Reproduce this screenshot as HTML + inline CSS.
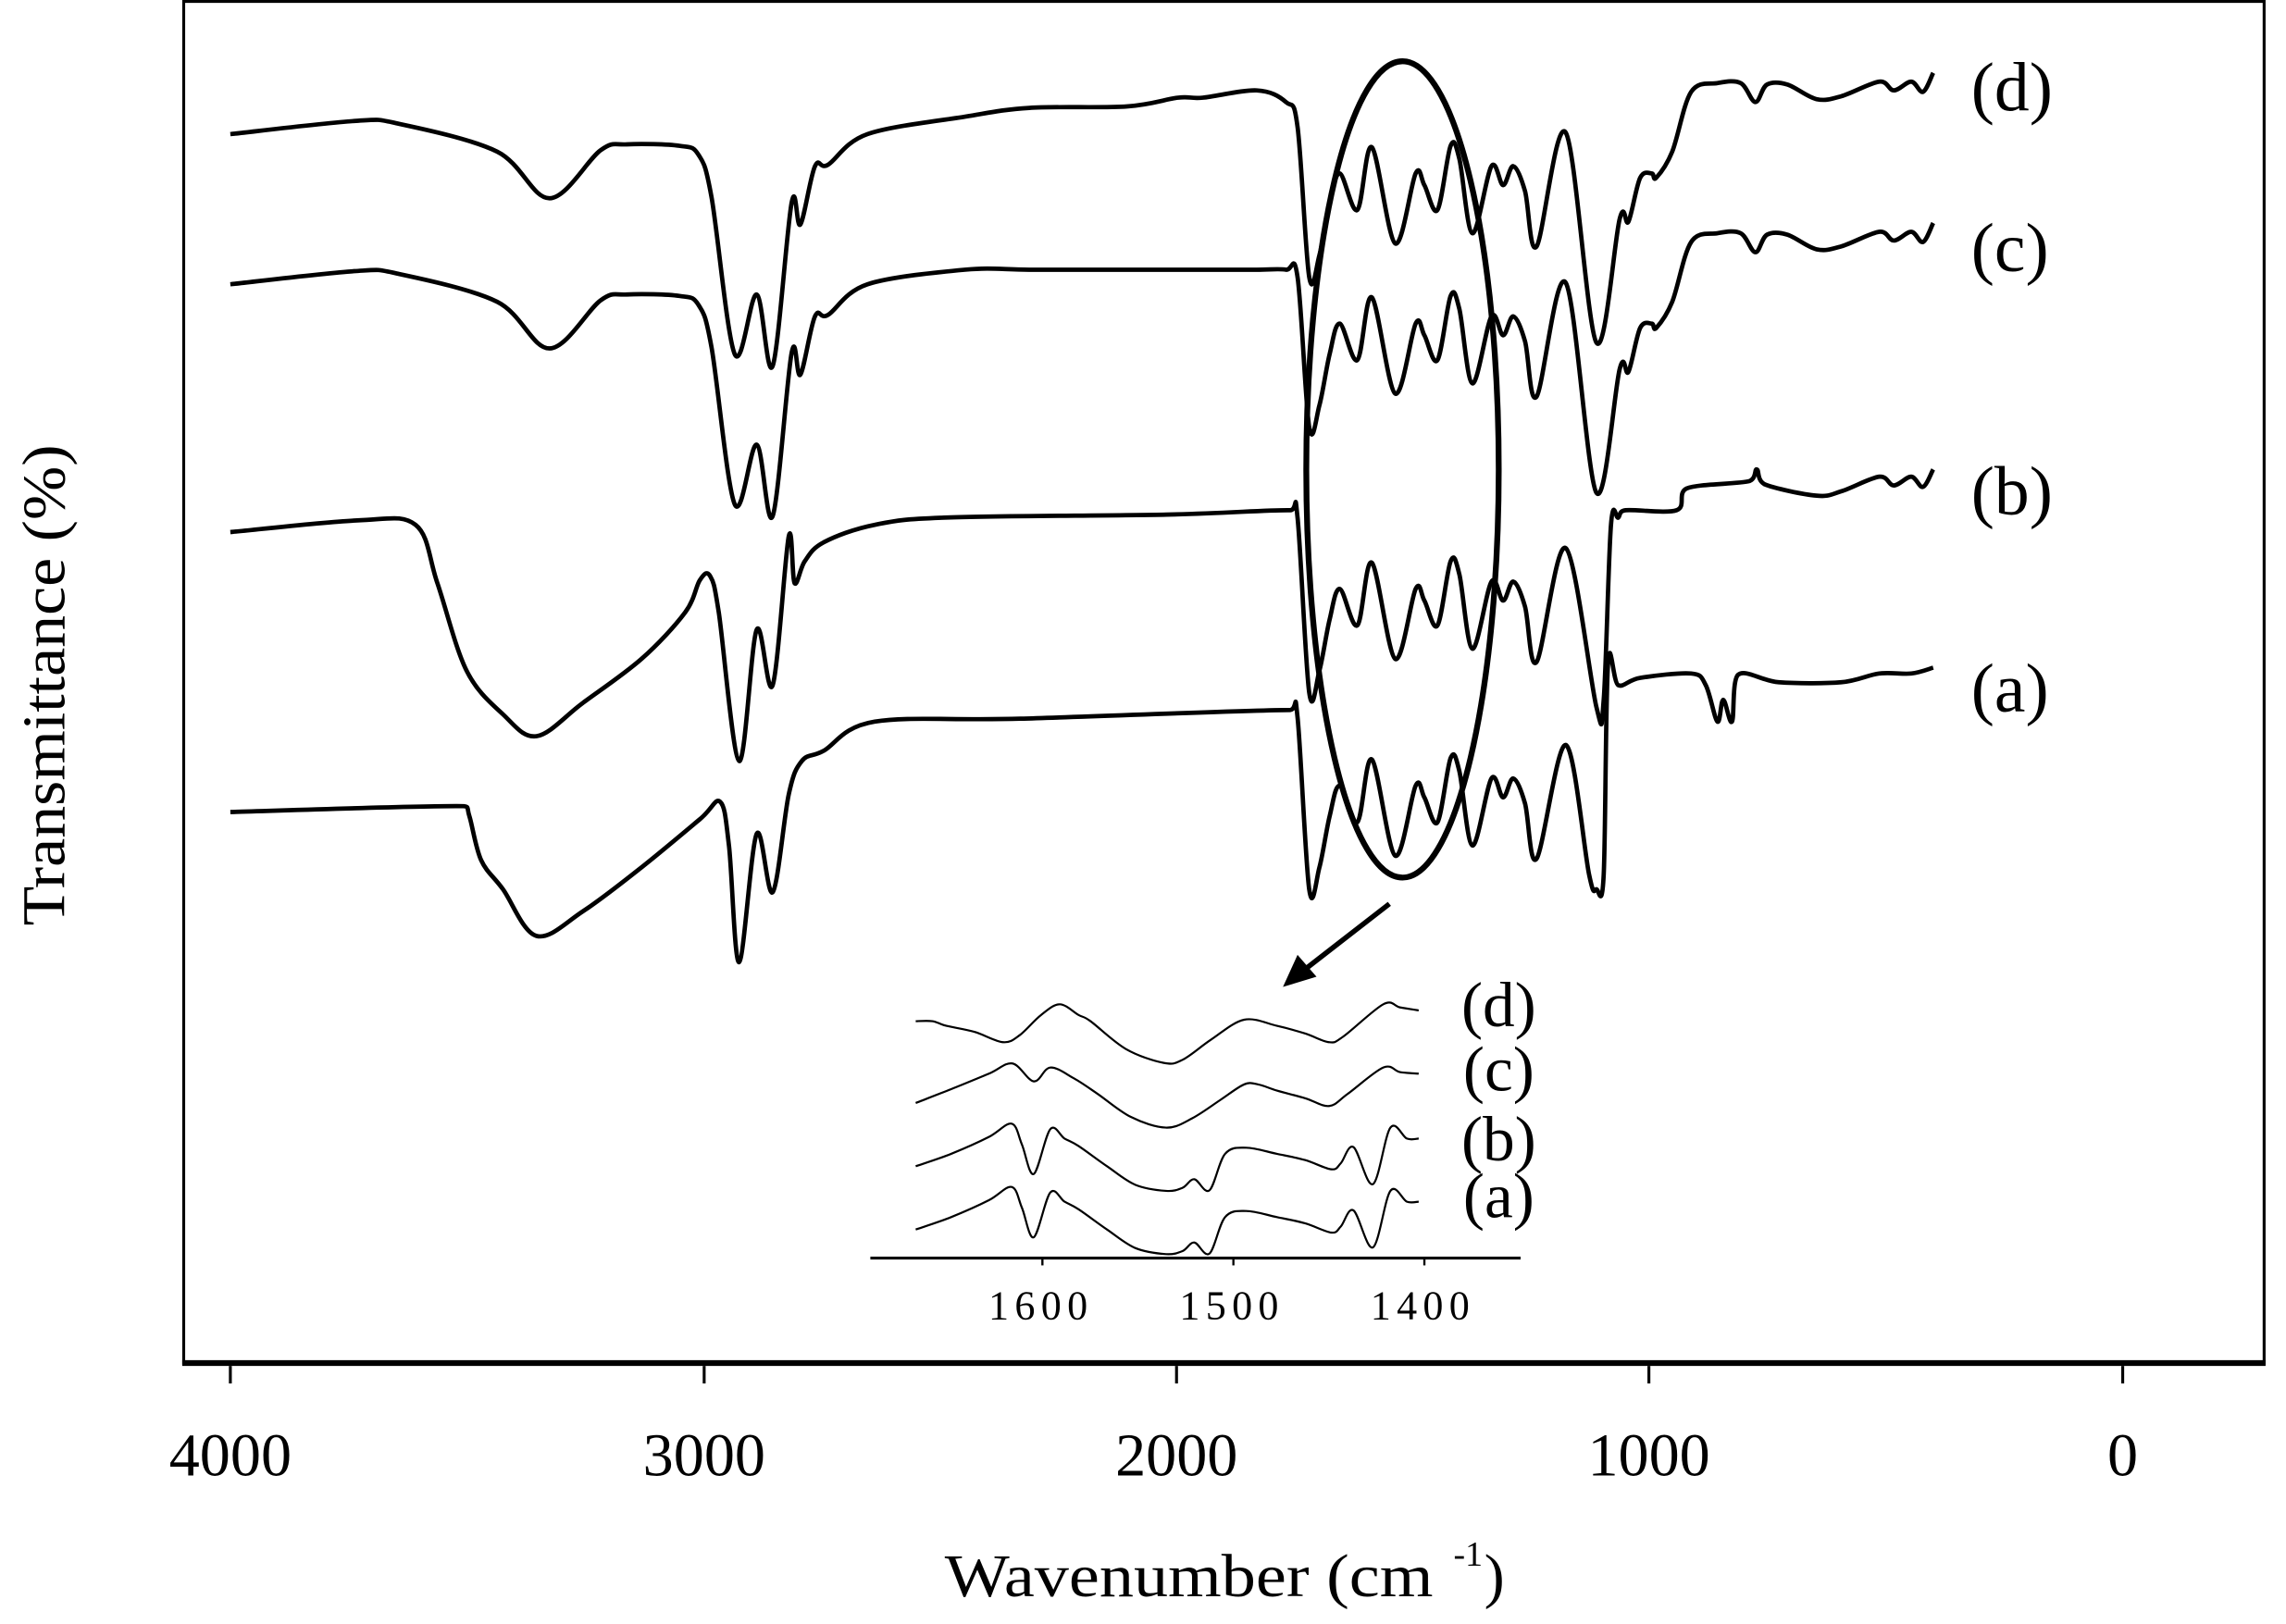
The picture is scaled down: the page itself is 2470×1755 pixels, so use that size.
<!DOCTYPE html>
<html><head><meta charset="utf-8"><style>
html,body{margin:0;padding:0;background:#fff;}
svg{display:block;}
text{font-family:"Liberation Serif",serif;fill:#000;}
</style></head><body>
<svg id="s" width="2470" height="1755" viewBox="0 0 1568 1114" preserveAspectRatio="none" xmlns="http://www.w3.org/2000/svg">
<rect x="0" y="0" width="1568" height="1114" fill="#fff"/>
<path d="M126,1 H1553 V935 H126 Z" fill="none" stroke="#000" stroke-width="2"/>
<line x1="125" y1="935" x2="1554" y2="935" stroke="#000" stroke-width="4"/>
<g stroke="#000" stroke-width="2">
<line x1="158" y1="937" x2="158" y2="949"/><line x1="483" y1="937" x2="483" y2="949"/>
<line x1="807" y1="937" x2="807" y2="949"/><line x1="1131" y1="937" x2="1131" y2="949"/>
<line x1="1456" y1="937" x2="1456" y2="949"/></g>
<g font-size="42" text-anchor="middle">
<text x="158" y="1012">4000</text><text x="483" y="1012">3000</text><text x="807" y="1012">2000</text>
<text x="1131" y="1012">1000</text><text x="1456" y="1012">0</text></g>
<text x="648" y="1095" font-size="42" textLength="335" lengthAdjust="spacingAndGlyphs">Wavenumber (cm</text>
<text x="997" y="1074" font-size="24">-1</text>
<text x="1018" y="1095" font-size="42">)</text>
<text transform="translate(44,470) rotate(-90)" font-size="42" text-anchor="middle" textLength="330" lengthAdjust="spacingAndGlyphs">Transmittance (%)</text>
<g font-size="48"><text x="1352" y="76">(d)</text><text x="1352" y="186">(c)</text><text x="1352" y="353">(b)</text><text x="1352" y="488">(a)</text></g>
<g id="curves" fill="none" stroke="#000" stroke-width="3" stroke-linejoin="round"></g>
<ellipse cx="962" cy="322" rx="66" ry="280" fill="none" stroke="#000" stroke-width="4"/>
<line x1="953" y1="620" x2="895" y2="665" stroke="#000" stroke-width="3.5"/>
<polygon points="880,677 890,655 903,670" fill="#000"/>
<line x1="597" y1="863" x2="1043" y2="863" stroke="#000" stroke-width="2"/>
<g stroke="#000" stroke-width="1.5"><line x1="715" y1="863" x2="715" y2="868"/><line x1="846" y1="863" x2="846" y2="868"/><line x1="977" y1="863" x2="977" y2="868"/></g>
<g font-size="28" text-anchor="middle" letter-spacing="4"><text x="714" y="905">1600</text><text x="845" y="905">1500</text><text x="976" y="905">1400</text></g>
<g font-size="44" text-anchor="middle"><text x="1028" y="704">(d)</text><text x="1028" y="748">(c)</text><text x="1028" y="796">(b)</text><text x="1028" y="835">(a)</text></g>
<g id="inset" fill="none" stroke="#000" stroke-width="1.4"></g>
</svg>
<script>
function P(a){
  a=a.map(p=>[+p[0],+p[1]]);
  var s="M"+a[0][0]+","+a[0][1];
  for(var i=0;i<a.length-1;i++){
    var p0=a[i-1]||a[i],p1=a[i],p2=a[i+1],p3=a[i+2]||p2,t=6;
    var c1=[p1[0]+(p2[0]-p0[0])/t,p1[1]+(p2[1]-p0[1])/t];
    var c2=[p2[0]-(p3[0]-p1[0])/t,p2[1]-(p3[1]-p1[1])/t];
    c1[0]=Math.min(Math.max(c1[0],p1[0]),p2[0]);c2[0]=Math.min(Math.max(c2[0],p1[0]),p2[0]);
    s+=" C"+c1[0].toFixed(1)+","+c1[1].toFixed(1)+" "+c2[0].toFixed(1)+","+c2[1].toFixed(1)+" "+p2[0]+","+p2[1];
  }
  return s;
}
function add(g,d,w){var e=document.createElementNS("http://www.w3.org/2000/svg","path");e.setAttribute("d",d);if(w)e.setAttribute("stroke-width",w);document.getElementById(g).appendChild(e);}
var d=[[158,92],[243,83],[274,85],[341,104],[377,136],[412,103],[430,99],[466,100],[479,106],[488,135],[504,243],[519,202],[530,251],[543,139],[549,154],[559,114],[568,113],[595,92],[662,80],[706,74],[773,73],[808,67],[825,67],[862,62],[882,70],[890,87],[898,190],[905,175],[912,140],[919,119],[931,144],[941,101],[957,167],[971,119],[977,127],[986,144],[995,100],[1001,109],[1010,160],[1023,114],[1031,127],[1038,114],[1046,131],[1054,169],[1074,91],[1095,235],[1111,150],[1117,152],[1125,122],[1133,119],[1136,122],[1147,104],[1160,63],[1178,57],[1194,57],[1204,70],[1212,58],[1226,58],[1246,68],[1263,66],[1289,56],[1299,62],[1311,56],[1319,63],[1326,50]];
add("curves",P(d));
var c=d.map(p=>[p[0],p[1]+103]);c.forEach(p=>{if(p[0]>=600&&p[0]<=882)p[1]=185;});
add("curves",P(c));
var fp=d.filter(p=>p[0]>=898&&p[0]<=1074);
var b=[[158,365],[245,357],[285,360],[300,400],[320,460],[345,490],[368,505],[400,482],[440,452],[470,420],[480,398],[487,395],[493,420],[507,522],[519,432],[530,470],[541,368],[545,400],[552,385],[565,372],[600,360],[650,355],[800,353],[885,350],[890,355]]
.concat(fp.map(p=>[p[0],p[1]+285])).concat([[1095,485],[1100,480],[1105,360],[1110,355],[1115,350],[1150,350],[1157,335],[1200,330],[1205,322],[1210,332],[1246,340],[1263,337],[1289,327],[1299,333],[1311,327],[1319,334],[1326,322]]);
add("curves",P(b));
var a=[[158,557],[318,553],[322,560],[330,590],[345,610],[368,642],[400,625],[440,595],[480,562],[494,550],[500,580],[507,660],[519,572],[530,612],[541,545],[550,522],[565,515],[600,495],[700,493],[885,487],[890,492]]
.concat(fp.map(p=>[p[0],p[1]+420])).concat([[1090,600],[1095,610],[1100,600],[1103,455],[1110,470],[1125,465],[1160,462],[1170,470],[1178,495],[1182,480],[1188,495],[1192,463],[1220,468],[1263,468],[1289,462],[1311,462],[1326,458]]);
add("curves",P(a));
function T(z){return z.map(p=>[((900+p[0]/1.96)/1.575).toFixed(1),((1000+p[1]/3)/1.575).toFixed(1)]);}
var id=[[175,310],[210,310],[240,325],[300,345],[360,378],[395,355],[440,290],[480,255],[520,290],[545,310],[620,400],[700,445],[740,435],[800,370],[870,305],[940,325],[1000,350],[1050,378],[1080,360],[1165,255],[1200,265],[1240,275]];
var ic=[[175,575],[250,530],[330,480],[380,447],[425,505],[460,460],[510,495],[560,545],[630,620],[705,655],[760,625],[820,565],[870,515],[900,515],[940,535],[1000,560],[1050,585],[1090,545],[1165,460],[1200,475],[1240,480]];
var ib=[[175,780],[250,740],[330,685],[378,642],[400,710],[425,805],[460,660],[490,690],[520,715],[580,780],[640,840],[705,860],[740,850],[765,822],[797,858],[830,740],[875,720],[940,740],[1000,760],[1055,790],[1075,770],[1102,718],[1143,838],[1180,655],[1215,690],[1240,690]];
var ia=ib.map(p=>[p[0],p[1]+205]);
[id,ic,ib,ia].forEach(z=>add("inset",P(T(z))));
</script>
</body></html>
